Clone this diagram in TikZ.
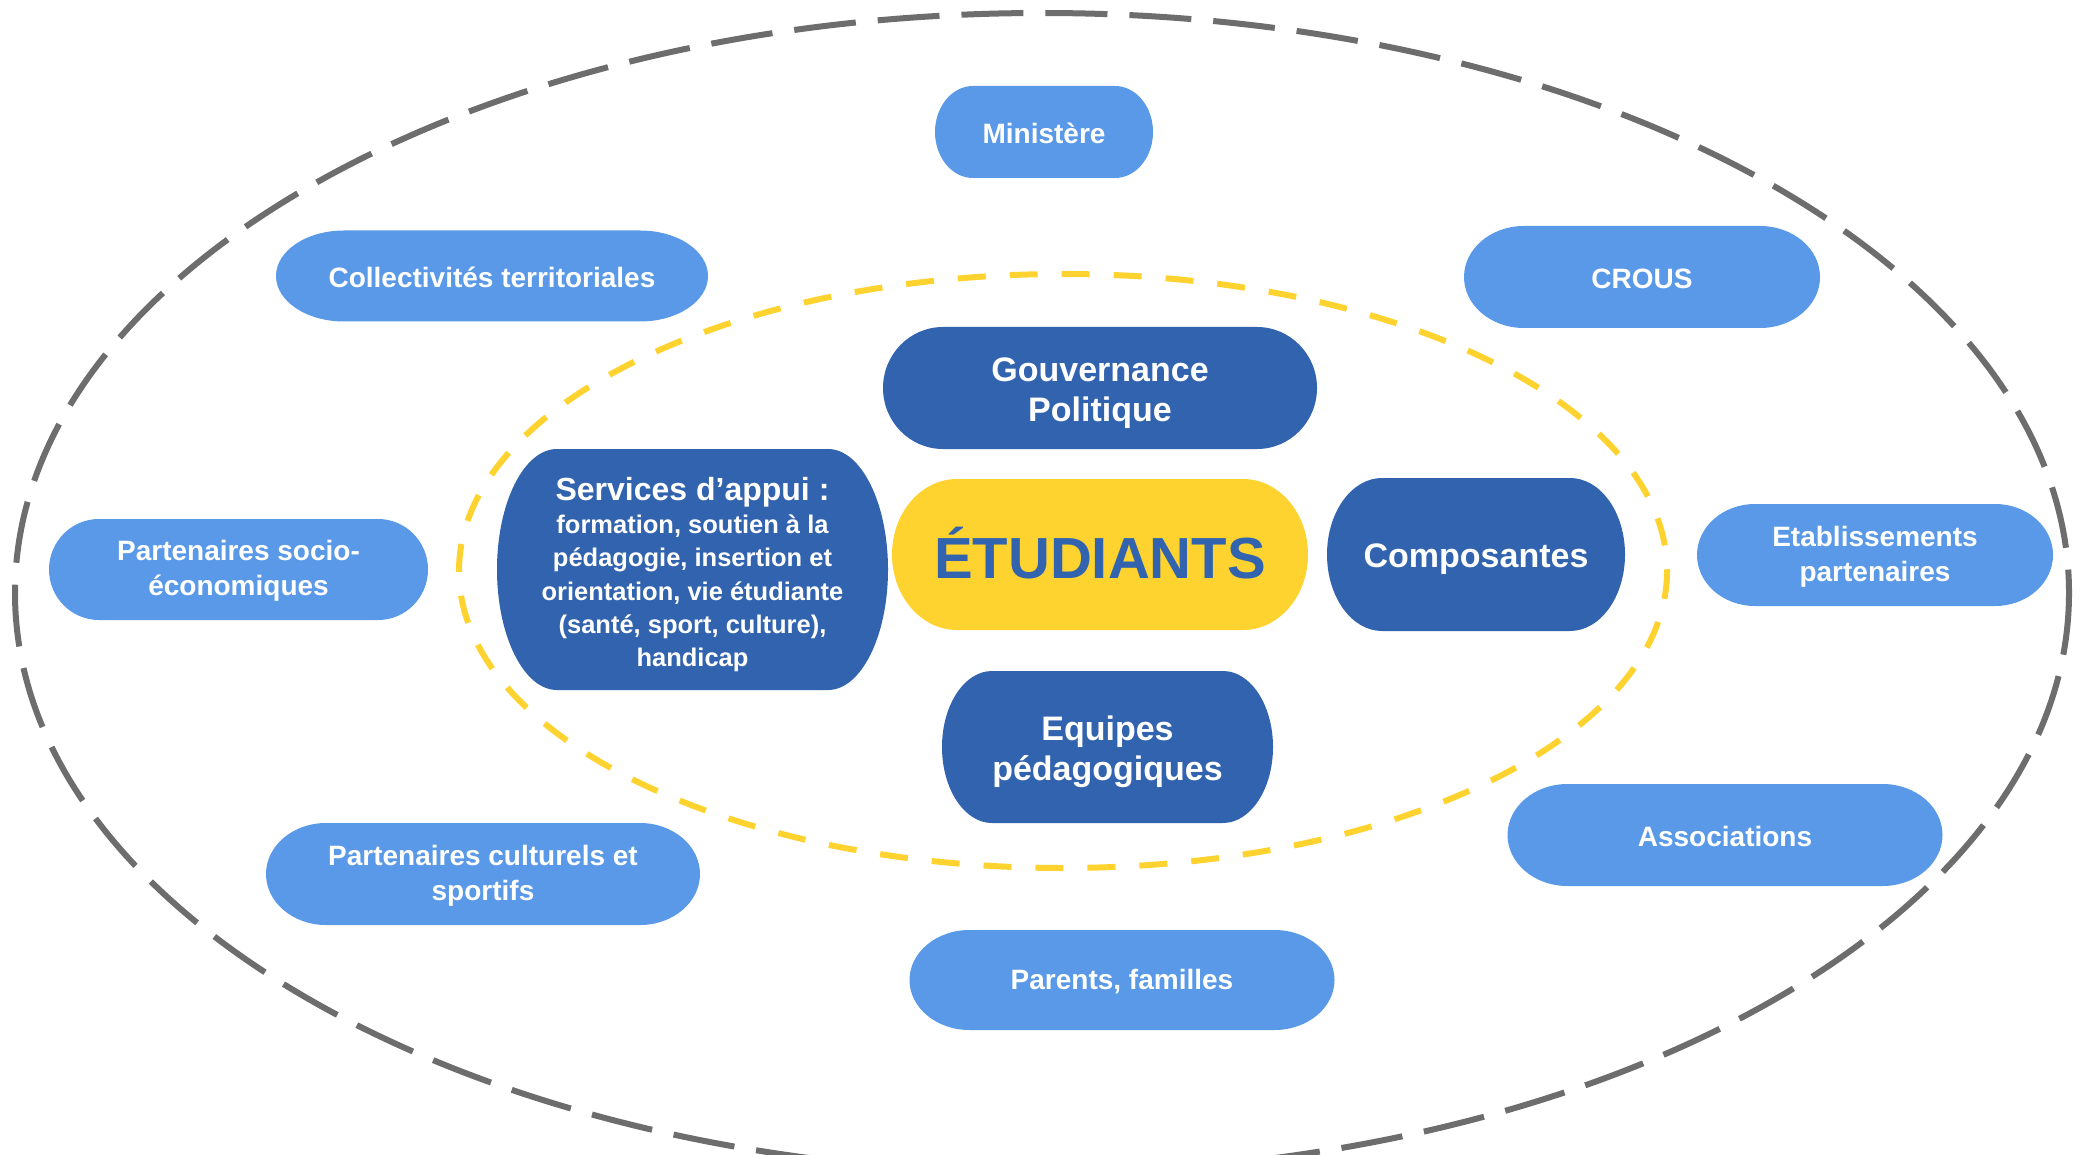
\documentclass[tikz,border=0pt]{standalone}
\usepackage{fontspec}
\setmainfont{Liberation Sans}
\definecolor{lightblue}{HTML}{5999E7}
\definecolor{darkblue}{HTML}{3263AE}
\definecolor{yel}{HTML}{FED330}
\definecolor{grayline}{HTML}{6D6D6D}
% name, cx, cy, w, h, rx, fill, text style, text
\newcommand\pill[9]{%
  \fill[#7] ({#2-#4/2+#6},{#3-#5/2}) -- ({#2+#4/2-#6},{#3-#5/2})
    arc[start angle=-90,end angle=90,x radius=#6,y radius=#5/2]
    -- ({#2-#4/2+#6},{#3+#5/2})
    arc[start angle=90,end angle=270,x radius=#6,y radius=#5/2] -- cycle;
  \node[#8] (#1) at (#2,#3) {#9};
}
\tikzset{
  lt/.style={text=white, font=\bfseries\fontsize{28}{35}\selectfont, align=center, inner sep=0pt, yshift=-1.5pt},
  dk/.style={text=white, font=\bfseries\fontsize{34}{40}\selectfont, align=center, inner sep=0pt, yshift=-5pt},
  st/.style={text=darkblue, font=\bfseries\fontsize{58}{60}\selectfont, align=center, inner sep=0pt, yshift=1pt},
  sv/.style={text=white, font=\bfseries\fontsize{25.5}{33.3}\selectfont, align=center, inner sep=0pt, yshift=-5pt},
  outer/.style={draw=grayline, line width=6pt, dash pattern=on 62pt off 22pt},
  inner/.style={draw=yel, line width=6pt, dash pattern=on 28pt off 24pt},
}
\begin{document}
\begin{tikzpicture}[x=1pt,y=-1pt]
\useasboundingbox (0,0) rectangle (2087,1155);
\fill[white] (0,0) rectangle (2087,1155);
\path[outer] (1042,593) ellipse [x radius=1027, y radius=580];
\path[inner] (1063,571) ellipse [x radius=604, y radius=297];

\pill{min}{1044}{132}{218}{92}{38}{lightblue}{lt}{Ministère}
\pill{coll}{492}{276}{432}{91}{68}{lightblue}{lt}{Collectivités territoriales}
\pill{crous}{1642}{277}{356}{102}{60}{lightblue}{lt}{CROUS}
\pill{socio}{238.5}{569.5}{379}{101}{50}{lightblue}{lt}{Partenaires socio-\\économiques}
\pill{etab}{1875}{555}{356}{102}{58}{lightblue}{lt}{Etablissements\\partenaires}
\pill{cult}{483}{874}{434}{102}{60}{lightblue}{lt}{Partenaires culturels et\\sportifs}
\pill{asso}{1725}{835}{435}{102}{60}{lightblue}{lt}{Associations}
\pill{par}{1122}{980}{425}{100}{60}{lightblue}{lt}{Parents, familles}

\pill{gouv}{1100}{388}{434}{122}{60}{darkblue}{dk}{Gouvernance\\Politique}
\pill{serv}{692.5}{569.5}{391}{241}{60}{darkblue}{sv}{{\fontsize{32}{34}\selectfont Services d’appui :}\\formation, soutien à la\\pédagogie, insertion et\\orientation, vie étudiante\\(santé, sport, culture),\\handicap}
\pill{etu}{1100}{554.5}{416}{151}{65}{yel}{st}{ÉTUDIANTS}
\pill{comp}{1476}{554.5}{298}{153}{55}{darkblue}{dk}{Composantes}
\pill{equ}{1107.5}{747}{331}{152}{50}{darkblue}{dk}{Equipes\\pédagogiques}
\end{tikzpicture}
\end{document}
